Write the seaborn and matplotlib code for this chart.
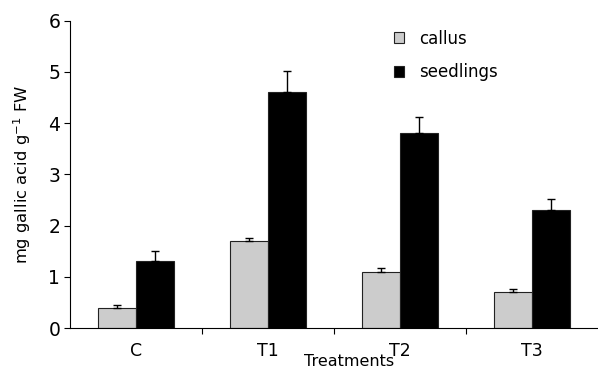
import matplotlib
matplotlib.use("Agg")
import matplotlib.pyplot as plt
import seaborn as sns
import pandas as pd
import numpy as np

categories = ["C", "T1", "T2", "T3"]
series = ["callus", "seedlings"]
callus = [0.4, 1.7, 1.1, 0.7]
callus_err = [0.05, 0.06, 0.08, 0.06]
seedlings = [1.3, 4.6, 3.8, 2.3]
seedlings_err = [0.2, 0.42, 0.31, 0.22]
yticks = [0, 1, 2, 3, 4, 5, 6]

df = pd.DataFrame({
    "treatment": categories * 2,
    "type": [series[0]] * 4 + [series[1]] * 4,
    "value": callus + seedlings,
    "err": callus_err + seedlings_err,
})

sns.set_theme(style="ticks")
plt.rcParams["font.family"] = ["DejaVu Sans"]
plt.rcParams["text.color"] = "black"
plt.rcParams["axes.labelcolor"] = "black"
plt.rcParams["xtick.color"] = "black"
plt.rcParams["ytick.color"] = "black"

fig = plt.figure(figsize=(5.98, 3.72), dpi=100)
ax = fig.add_axes([70 / 598, 1 - 328 / 372, 528 / 598, (328 - 20.7) / 372])

sns.barplot(data=df, x="treatment", y="value", hue="type", order=categories,
            hue_order=series, palette={"callus": "#cccccc", "seedlings": "#000000"},
            width=0.57, gap=0, edgecolor="#222222", linewidth=0.8,
            errorbar=None, ax=ax, legend=True)

# error bars (upper only) at library-computed bar positions
bars = [p for p in ax.patches if p.get_height() > 0]
for p in bars:
    xc = p.get_x() + p.get_width() / 2
    h = p.get_height()
    row = df[np.isclose(df["value"], h)].iloc[0]
    ax.errorbar([xc], [h], yerr=[[0], [row["err"]]], fmt="none", ecolor="black",
                elinewidth=1.0, capsize=3, capthick=1.0)

ax.set_xlim(-0.5, 3.5)
ax.set_ylim(0, 6)
ax.set_yticks(yticks)
ax.set_yticklabels([str(t) for t in yticks], fontsize=13.5)
ax.tick_params(axis="y", length=4, width=0.8, pad=3, colors="black")

# category labels centred, ticks at group boundaries
ax.set_xticks(range(len(categories)))
ax.set_xticklabels(categories, fontsize=12.5)
ax.tick_params(axis="x", which="major", length=0, pad=10, colors="black")
ax.set_xticks([0.5, 1.5, 2.5], minor=True)
ax.tick_params(axis="x", which="minor", length=4, width=0.8, color="black")

for s in ["top", "right"]:
    ax.spines[s].set_visible(False)
for s in ["left", "bottom"]:
    ax.spines[s].set_linewidth(0.8)
    ax.spines[s].set_color("black")

ax.set_ylabel("mg gallic acid g$^{-1}$ FW", fontsize=11.8, color="black")
ax.yaxis.set_label_coords(-0.07, 0.5)
ax.set_xlabel("Treatments", fontsize=11.5, color="black")
ax.xaxis.set_label_coords(0.528, -0.083)

leg = ax.legend(loc="upper left", bbox_to_anchor=(0.585, 1.02), frameon=False,
                fontsize=12, handlelength=0.6, handleheight=0.6, handletextpad=0.9,
                labelspacing=0.95)
for t in leg.get_texts():
    t.set_color("black")
for h in leg.legend_handles:
    h.set_edgecolor("#222222")
    h.set_linewidth(0.8)

fig.savefig("out.png", dpi=100)
